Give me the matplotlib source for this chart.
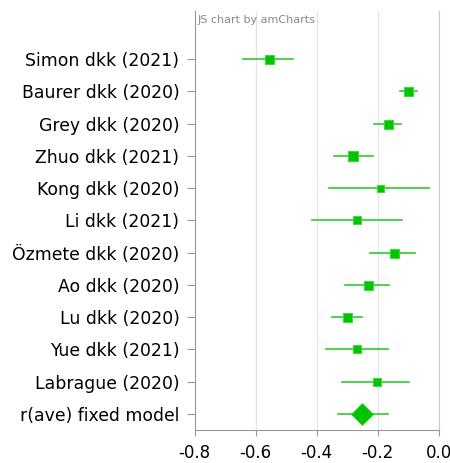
import numpy as np
import matplotlib.pyplot as plt

# Studies and their effect sizes with confidence limits
studies = ["Simon dkk (2021)", "Baurer dkk (2020)", "Grey dkk (2020)", "Zhuo dkk (2021)",
           "Kong dkk (2020)", "Li dkk (2021)", "Özmete dkk (2020)", "Ao dkk (2020)",
           "Lu dkk (2020)", "Yue dkk (2021)", "Labrague (2020)", "r(ave) fixed model"]
r_vals = [-0.557, -0.100, -0.168, -0.280, -0.192, -0.267, -0.148, -0.233, -0.301, -0.268, -0.203, -0.250]
lower = [-0.643, -0.127, -0.211, -0.342, -0.361, -0.414, -0.227, -0.307, -0.351, -0.370, -0.316, -0.329]
upper = [-0.477, -0.071, -0.124, -0.216, -0.032, -0.121, -0.077, -0.163, -0.250, -0.168, -0.098, -0.168]
marker_px = [9, 9, 9, 9.5, 7, 7.5, 9, 9, 9, 8, 8, 22]

xticks = [-0.8, -0.6, -0.4, -0.2, 0.0]

green = "#00c400"
fig = plt.figure(figsize=(4.5, 4.63), dpi=100)
ax = fig.add_axes([0.4327, 0.0713, 0.5423, 0.9047])

y = np.arange(len(studies))
for i in range(len(studies)):
    ax.plot([lower[i], upper[i]], [y[i], y[i]], color="#2ecc2e", lw=1.2, zorder=2)
    if i == len(studies) - 1:
        ax.plot(r_vals[i], y[i], marker="D", ms=marker_px[i] * 0.72 * 0.72, color=green,
                mec="#2ecc2e", mew=0.5, zorder=3)
    else:
        ax.plot(r_vals[i], y[i], marker="s", ms=marker_px[i] * 0.72, color=green,
                mec="#40d840", mew=0.8, zorder=3)

ax.set_xlim(-0.8, 0.0)
ax.set_ylim(11.5, -1.49)
ax.set_xticks(xticks)
ax.set_xticklabels(["-0.8", "-0.6", "-0.4", "-0.2", "0.0"], fontsize=12)
ax.set_yticks(y)
ax.set_yticklabels(studies, fontsize=12.4)

ax.grid(axis="x", color="#e6e6e6", lw=1)
ax.set_axisbelow(True)
ax.spines["top"].set_visible(False)
ax.spines["right"].set_color("#cccccc")
ax.spines["left"].set_color("#999999")
ax.spines["bottom"].set_color("#999999")
ax.tick_params(axis="y", length=6, color="#999999", pad=5)
ax.tick_params(axis="x", length=4, color="#999999", pad=6)

ax.text(0.012, 0.99, "JS chart by amCharts", transform=ax.transAxes, fontsize=8,
        color="#888888", va="top", ha="left")

fig.savefig("out.png", dpi=100)
